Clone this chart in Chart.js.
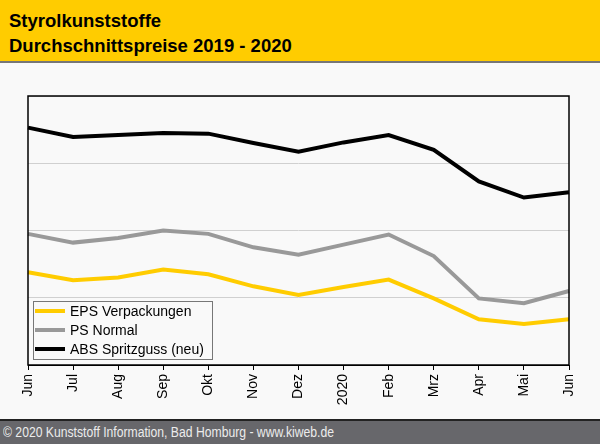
<!DOCTYPE html>
<html>
<head>
<meta charset="utf-8">
<script src="https://cdn.jsdelivr.net/npm/chart.js@4.4.0/dist/chart.umd.min.js"></script>
<style>
  html, body { margin: 0; padding: 0; background: #f9f9f9; }
  body { width: 600px; height: 444px; overflow: hidden; font-family: "Liberation Sans", Arial, sans-serif; }
  .head { height: 61px; background: #ffcc00; border-bottom: 2px solid #777; }
  .head div { font-weight: bold; font-size: 18.5px; padding-left: 9px; line-height: 25px; }
  .head div:first-child { padding-top: 8px; }
  .wrap { height: 356px; position: relative; }
  .foot { height: 23px; background: #67676b; border-top: 2px solid #222; color: #ececec; font-size: 14px; line-height: 22px; padding-left: 3px; white-space: nowrap; }
  .foot span { display: inline-block; transform: scaleX(0.87); transform-origin: left center; }
</style>
</head>
<body>
<div class="head"><div>Styrolkunststoffe</div><div>Durchschnittspreise 2019 - 2020</div></div>
<div class="wrap"><canvas id="chart" width="600" height="356"></canvas></div>
<div class="foot"><span>© 2020 Kunststoff Information, Bad Homburg - www.kiweb.de</span></div>
<script>
// Data
var months = ["Jun", "Jul", "Aug", "Sep", "Okt", "Nov", "Dez", "2020", "Feb", "Mrz", "Apr", "Mai", "Jun"];
var eps = [1.38, 1.26, 1.30, 1.42, 1.35, 1.17, 1.04, 1.16, 1.27, 0.99, 0.68, 0.61, 0.68];
var psNormal = [1.95, 1.82, 1.89, 2.00, 1.95, 1.75, 1.64, 1.79, 1.94, 1.62, 0.99, 0.92, 1.10];
var abs = [3.53, 3.39, 3.42, 3.45, 3.44, 3.30, 3.17, 3.31, 3.42, 3.20, 2.73, 2.49, 2.57];
var yTicks = [0, 1, 2, 3, 4];

// Legend box drawn inside the plot area, bottom left
var boxLegend = {
  id: "boxLegend",
  afterDraw: function (chart) {
    var ctx = chart.ctx;
    var a = chart.chartArea;
    var ds = chart.data.datasets;
    var rowH = 19;
    var w = 179, h = ds.length * rowH + 1;
    var x = a.left + 5, y = a.bottom - 6 - h;
    ctx.save();
    ctx.fillStyle = "#f9f9f9";
    ctx.fillRect(x, y, w, h);
    ctx.strokeStyle = "#777";
    ctx.lineWidth = 1;
    ctx.strokeRect(x + 0.5, y + 0.5, w, h);
    ctx.font = "14px 'Liberation Sans', Arial, sans-serif";
    ctx.textBaseline = "middle";
    for (var i = 0; i < ds.length; i++) {
      var cy = y + 10 + i * rowH;
      ctx.strokeStyle = ds[i].borderColor;
      ctx.lineWidth = 4;
      ctx.beginPath();
      ctx.moveTo(x + 2, cy);
      ctx.lineTo(x + 32, cy);
      ctx.stroke();
      ctx.fillStyle = "#000";
      ctx.fillText(ds[i].label, x + 37, cy + 1);
    }
    ctx.restore();
  }
};

// Black frame round the plot
var frame = {
  id: "frame",
  afterDatasetsDraw: function (chart) {
    var ctx = chart.ctx;
    var a = chart.chartArea;
    ctx.save();
    ctx.strokeStyle = "#000";
    ctx.lineWidth = 1.5;
    ctx.strokeRect(a.left, a.top, a.right - a.left, a.bottom - a.top);
    ctx.restore();
  }
};

new Chart(document.getElementById("chart"), {
  type: "line",
  data: {
    labels: months,
    datasets: [
      { label: "EPS Verpackungen", data: eps, borderColor: "#ffcc00", borderWidth: 4, pointRadius: 0, tension: 0 },
      { label: "PS Normal", data: psNormal, borderColor: "#999999", borderWidth: 4, pointRadius: 0, tension: 0 },
      { label: "ABS Spritzguss (neu)", data: abs, borderColor: "#000000", borderWidth: 4, pointRadius: 0, tension: 0 }
    ]
  },
  options: {
    responsive: false,
    animation: false,
    layout: { padding: { left: 28, right: 31, top: 33, bottom: 0 } },
    plugins: { legend: { display: false }, tooltip: { enabled: false } },
    scales: {
      x: {
        offset: false,
        grid: { drawOnChartArea: false, drawTicks: true, tickLength: 5, color: "#000" },
        border: { color: "#000", width: 1 },
        ticks: {
          minRotation: 90, maxRotation: 90, autoSkip: false, padding: 4,
          color: "#000", font: { family: "'Liberation Sans', Arial, sans-serif", size: 14 }
        },
        afterFit: function (scale) { scale.height = 54; }
      },
      y: {
        min: yTicks[0], max: yTicks[yTicks.length - 1],
        afterBuildTicks: function (scale) { scale.ticks = yTicks.map(function (v) { return { value: v }; }); },
        grid: { color: "#d0d0d0", drawTicks: false },
        border: { display: false },
        ticks: { display: false },
        afterFit: function (scale) { scale.width = 0; }
      }
    }
  },
  plugins: [frame, boxLegend]
});
</script>
</body>
</html>
